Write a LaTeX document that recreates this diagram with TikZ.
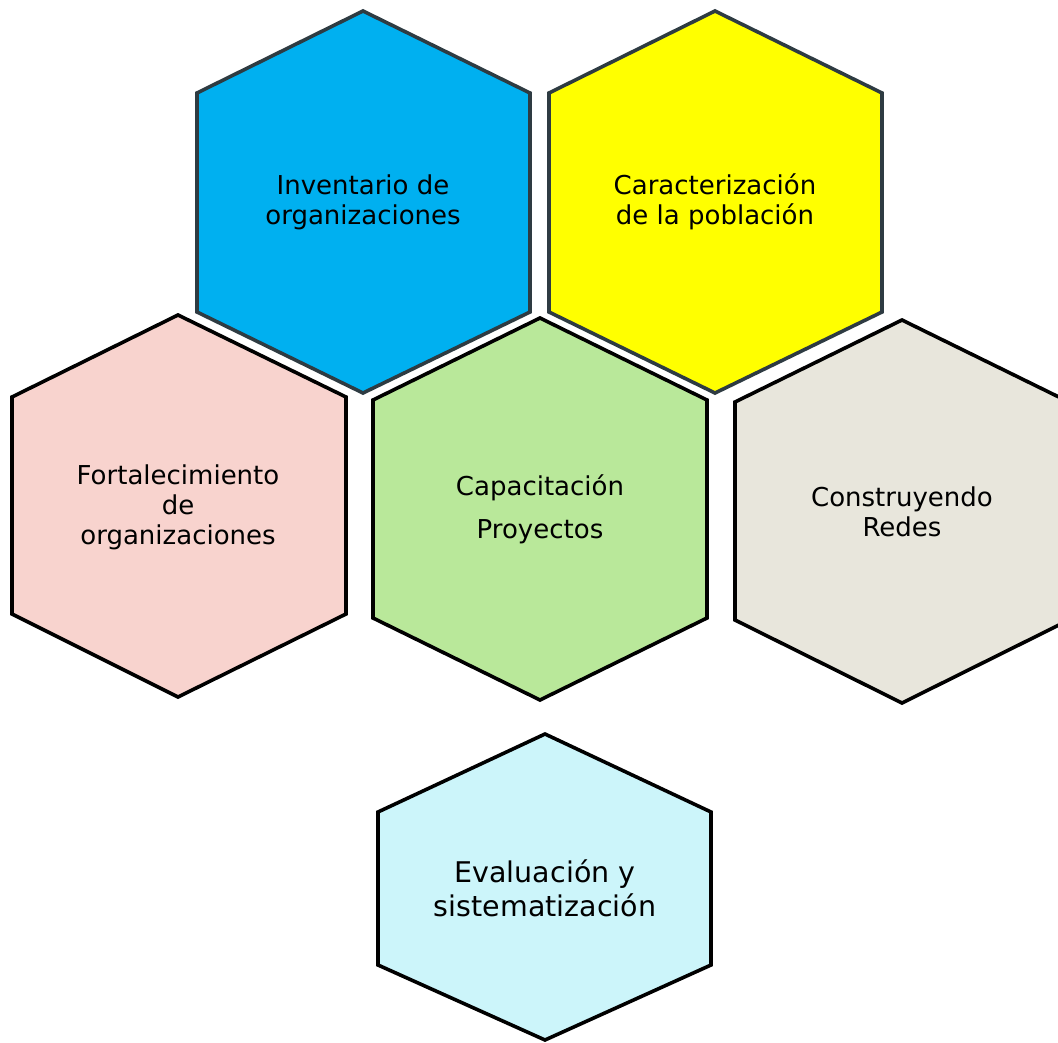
\documentclass[tikz,border=0pt]{standalone}
\usepackage{fontspec}
\setmainfont{DejaVu Sans}
\definecolor{hexdark}{HTML}{2E3B42}
\definecolor{hexblue}{HTML}{00B0F0}
\definecolor{hexyellow}{HTML}{FFFF00}
\definecolor{hexpink}{HTML}{F8D3CE}
\definecolor{hexgreen}{HTML}{B9E89A}
\definecolor{hexbeige}{HTML}{E8E6DC}
\definecolor{hexcyan}{HTML}{CCF5FA}
\begin{document}
\begin{tikzpicture}[x=1pt,y=-1pt,
  hexa/.style={line width=3.6pt, line join=miter},
  dk/.style={draw=hexdark},
  bk/.style={draw=black},
  lbl/.style={align=center, font=\fontsize{26}{30}\selectfont, inner sep=0pt, text=black},
  biglbl/.style={lbl, font=\fontsize{28.5}{34}\selectfont}]
\useasboundingbox (0,0) rectangle (1058,1042);
\clip (0,0) rectangle (1058,1042);
\fill[white] (0,0) rectangle (1058,1042);
% top row
\draw[hexa,dk,fill=hexblue] (363,11) -- (530,93) -- (530,312) -- (363,393) -- (197,312) -- (197,93) -- cycle;
\draw[hexa,dk,fill=hexyellow] (715,11) -- (882,93) -- (882,312) -- (715,393) -- (549,312) -- (549,93) -- cycle;
% middle row
\draw[hexa,bk,fill=hexpink] (178,315) -- (346,397) -- (346,614) -- (178,697) -- (12,614) -- (12,397) -- cycle;
\draw[hexa,bk,fill=hexgreen] (540,318) -- (707,400) -- (707,618) -- (540,700) -- (373,618) -- (373,400) -- cycle;
\draw[hexa,bk,fill=hexbeige] (902,320) -- (1069,402) -- (1069,620) -- (902,703) -- (735,620) -- (735,402) -- cycle;
% bottom
\draw[hexa,bk,fill=hexcyan] (545,734) -- (711,812) -- (711,965) -- (545,1040) -- (378,965) -- (378,812) -- cycle;
% labels
\node[lbl] (inv) at (363,202) {Inventario de\\organizaciones};
\node[lbl] (car) at (715,202) {Caracterización\\de la población};
\node[lbl] (fort) at (178,507) {Fortalecimiento\\de\\organizaciones};
\node[lbl] (cap) at (540,509) {Capacitación\\[13pt]Proyectos};
\node[lbl] (con) at (902,512) {Construyendo\\Redes};
\node[biglbl] (eva) at (545,888) {Evaluación y\\sistematización};
\end{tikzpicture}
\end{document}
